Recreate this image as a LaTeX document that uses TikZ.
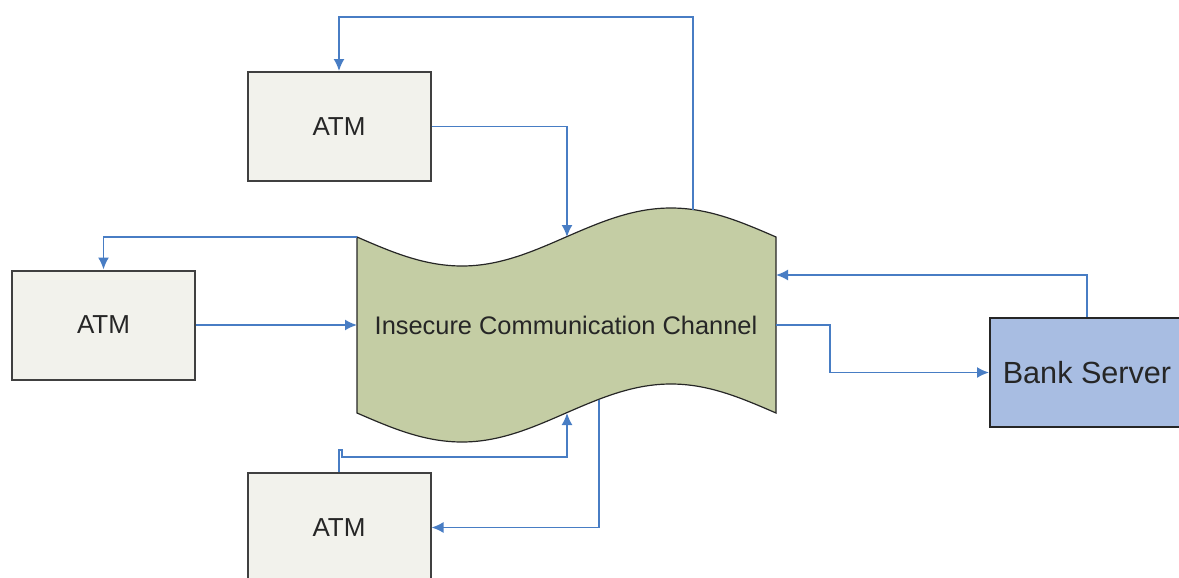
\documentclass[tikz,border=0pt]{standalone}
\usepackage{fontspec}
\setmainfont{Liberation Sans}
\usetikzlibrary{arrows.meta}
\definecolor{atmfill}{RGB}{242,242,236}
\definecolor{chanfill}{RGB}{196,205,164}
\definecolor{bankfill}{RGB}{168,189,226}
\definecolor{linkblue}{RGB}{72,125,196}
\definecolor{edgegray}{RGB}{64,64,64}
\begin{document}
\begin{tikzpicture}[x=0.5pt,y=-0.5pt,
    box/.style={draw=edgegray,fill=atmfill,line width=1pt,minimum width=91.5pt,
      minimum height=54.5pt,inner sep=0pt,text=black!85,font=\fontsize{13}{15}\selectfont},
    link/.style={draw=linkblue,line width=0.85pt,-{Latex[length=6pt,width=5.5pt]}}]
    \useasboundingbox (0,0) rectangle (1179,578);
    % the channel
    \draw[fill=chanfill,draw=black!85,line width=0.6pt] (357,237) sin (462,266) cos (566,237)
        sin (671,208) cos (776,237) -- (776,413) sin (671,384) cos (566,413)
        sin (462,442) cos (357,413) -- cycle;
    \node[text=black!85,font=\fontsize{12.7}{15}\selectfont] (chan) at (566,325) {Insecure Communication Channel};
    \coordinate (chanTL) at (357,237);
    \coordinate (chanTop) at (693,209.5);
    \coordinate (chanTopIn) at (567,237);
    \coordinate (chanL) at (357,325);
    \coordinate (chanRin) at (776,275);
    \coordinate (chanRout) at (776,325);
    \coordinate (chanBin) at (567,413);
    \coordinate (chanBot) at (599,399.5);
    % atms and server
    \node[box] (atm1) at (339,126.5) {ATM};
    \node[box] (atm2) at (103.5,325) {ATM};
    \node[box] (atm3) at (339,527.5) {ATM};
    \node[box,fill=bankfill,draw=black!85,minimum width=97pt,
      font=\fontsize{15.3}{18}\selectfont] (bank) at (1087,372.5) {Bank Server};
    % links
    \draw[link] (chanTop) -- ++(0,-192.5) -| (atm1.north);
    \draw[link] (atm1.east) -| (chanTopIn);
    \draw[link] (chanTL) -| (atm2.north);
    \draw[link] (atm2.east) -- (chanL);
    \draw[link] (chanRout) -- ++(54,0) |- (bank.west);
    \draw[link] (bank.north) |- (chanRin);
    \draw[link] (atm3.north) -- ++(0,-22) -- ++(3,0) -- ++(0,7) -| (chanBin);
    \draw[link] (chanBot) |- (atm3.east);
\end{tikzpicture}
\end{document}
